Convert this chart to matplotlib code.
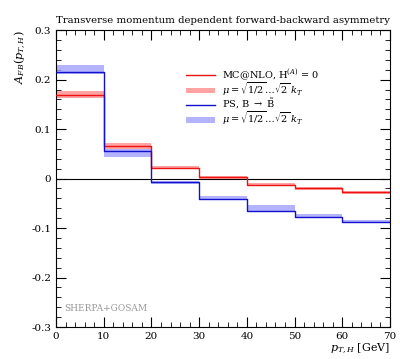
import numpy as np
import matplotlib.pyplot as plt
from matplotlib.ticker import MultipleLocator
from matplotlib.patches import Patch
from matplotlib.lines import Line2D

# bin edges in pT [GeV]
edges = [0, 10, 20, 30, 40, 50, 60, 70]

# MC@NLO, H^(A)=0
red_central = [0.169, 0.065, 0.022, 0.003, -0.012, -0.020, -0.028]
red_lo = [0.163, 0.060, 0.019, 0.000, -0.015, -0.023, -0.031]
red_hi = [0.178, 0.071, 0.025, 0.006, -0.009, -0.017, -0.025]

# PS, B -> B~
blue_central = [0.216, 0.056, -0.007, -0.041, -0.065, -0.077, -0.087]
blue_lo = [0.212, 0.044, -0.010, -0.044, -0.067, -0.080, -0.090]
blue_hi = [0.230, 0.059, -0.004, -0.036, -0.053, -0.072, -0.084]

plt.rcParams['font.family'] = ['DejaVu Serif']
plt.rcParams['mathtext.fontset'] = 'dejavuserif'

fig = plt.figure(figsize=(4.0, 3.59), dpi=100)
ax = fig.add_axes([0.14, 0.089, 0.835, 0.827])


def step_vals(v):
    return list(v) + [v[-1]]


ax.axhline(0, color='black', lw=0.8, zorder=1)

ax.fill_between(edges, step_vals(red_lo), step_vals(red_hi), step='post',
                color='#ff8c8c', alpha=0.8, lw=0, zorder=2)
ax.fill_between(edges, step_vals(blue_lo), step_vals(blue_hi), step='post',
                color='#a0a0ff', alpha=0.8, lw=0, zorder=2)
ax.step(edges, step_vals(red_central), where='post', color='#ee1111', lw=1.0, zorder=3)
ax.step(edges, step_vals(blue_central), where='post', color='#1111cc', lw=1.0, zorder=3)

ax.set_xlim(0, 70)
ax.set_ylim(-0.3, 0.3)
ax.xaxis.set_major_locator(MultipleLocator(10))
ax.xaxis.set_minor_locator(MultipleLocator(2))
ax.yaxis.set_major_locator(MultipleLocator(0.1))
ax.yaxis.set_minor_locator(MultipleLocator(0.02))
ax.tick_params(which='both', direction='in', top=True, right=True, labelsize=7.5)
ax.tick_params(which='major', length=7)
ax.tick_params(which='minor', length=3.5)
ax.set_yticks([-0.3, -0.2, -0.1, 0, 0.1, 0.2, 0.3])
ax.set_yticklabels(['-0.3', '-0.2', '-0.1', '0', '0.1', '0.2', '0.3'])

ax.set_title('Transverse momentum dependent forward-backward asymmetry', fontsize=7.3, loc='right', pad=5)
ax.set_xlabel(r'$p_{T,H}$ [GeV]', fontsize=8, loc='right', labelpad=1)
ax.set_ylabel(r'$A_{FB}(p_{T,H})$', fontsize=8, loc='top', labelpad=2)

handles = [
    Line2D([], [], color='#ee1111', lw=1.0),
    Patch(color='#ff8c8c', alpha=0.8, lw=0),
    Line2D([], [], color='#1111cc', lw=1.0),
    Patch(color='#a0a0ff', alpha=0.8, lw=0),
]
labels = [
    r'MC@NLO, H$^{(A)}$ = 0',
    r'$\mu = \sqrt{1/2}\ldots\sqrt{2}\;k_T$',
    r'PS, B $\rightarrow$ $\tilde{\rm B}$',
    r'$\mu = \sqrt{1/2}\ldots\sqrt{2}\;k_T$',
]
ax.legend(handles, labels, loc='upper left', bbox_to_anchor=(0.39, 0.875), frameon=False,
          fontsize=7, handlelength=3.0, handleheight=0.5, labelspacing=-0.15,
          handletextpad=0.7, borderaxespad=0, borderpad=0)

ax.text(0.025, 0.055, 'SHERPA+GOSAM', transform=ax.transAxes, fontsize=6.5, color='#999999')

fig.savefig('out.png', dpi=100)
